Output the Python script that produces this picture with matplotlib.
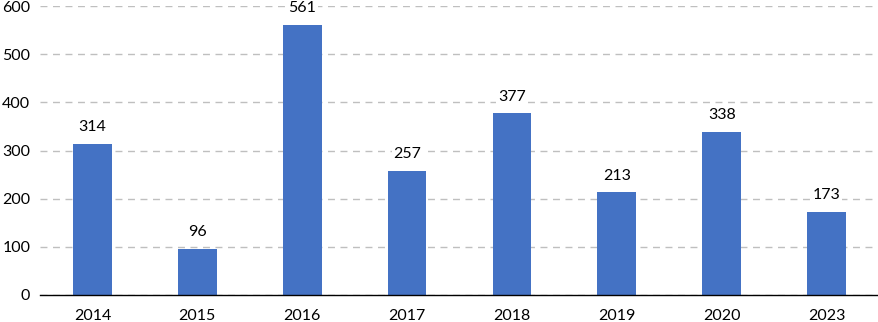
import matplotlib
matplotlib.use("Agg")
import matplotlib.pyplot as plt

years = ["2014", "2015", "2016", "2017", "2018", "2019", "2020", "2023"]
values = [314, 96, 561, 257, 377, 213, 338, 173]
yticks = [0, 100, 200, 300, 400, 500, 600]

plt.rcParams['font.family'] = ['Lato', 'DejaVu Sans']

fig = plt.figure(figsize=(8.79, 3.22), dpi=100)
ax = fig.add_axes([40/879, 1 - 295/322, 839/879, 289/322])

x = range(len(years))
bars = ax.bar(x, values, width=0.37, color="#4472C4", zorder=3)
ax.set_xlim(-0.5, len(years) - 0.5)
ax.set_ylim(0, 600)
ax.set_yticks(yticks)
ax.set_xticks(list(x))
ax.set_xticklabels(years)
ax.tick_params(axis='both', length=0, labelsize=11.5, colors="#000000")
ax.tick_params(axis='y', pad=7)
ax.tick_params(axis='x', pad=10)
ax.yaxis.grid(True, linestyle=(0, (5, 4)), color="#BFBFBF", linewidth=1, zorder=0)
ax.set_axisbelow(True)
for s in ["top", "right", "left"]:
    ax.spines[s].set_visible(False)
ax.spines["bottom"].set_color("black")
ax.spines["bottom"].set_linewidth(1)
ax.spines["bottom"].set_zorder(4)

for xi, v in zip(x, values):
    ax.annotate(str(v), (xi, v), xytext=(0, 7), textcoords="offset points",
                ha="center", va="bottom", fontsize=11.5, zorder=5,
                bbox=dict(boxstyle="square,pad=0.1", fc="white", ec="none"))

fig.savefig("out.png", dpi=100)
